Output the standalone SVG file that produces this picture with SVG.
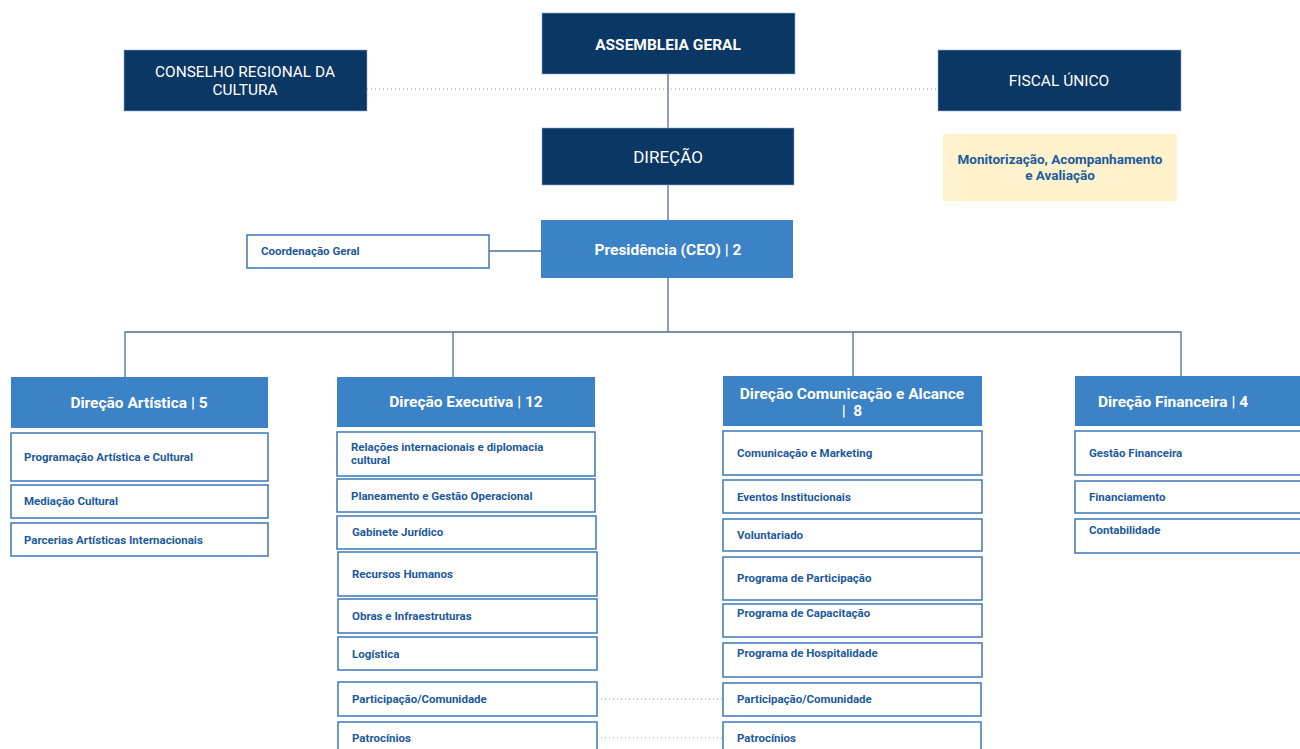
<svg xmlns="http://www.w3.org/2000/svg" width="1300" height="749" viewBox="0 0 1300 749">
<style>
.navy{fill:#0b3764;stroke:#8fb0d0;stroke-width:0.6}
.hdr{fill:#3b82c6}
.sub{fill:#ffffff;stroke:#3d78b6;stroke-width:1.5}
.tw{font-family:Roboto,"Liberation Sans",sans-serif;fill:#ffffff;text-anchor:middle}
.th{font-family:Roboto,"Liberation Sans",sans-serif;fill:#ffffff;text-anchor:middle;font-weight:bold;font-size:15.5px}
.ts{font-family:Roboto,"Liberation Sans",sans-serif;fill:#1e5a9c;font-weight:bold;font-size:11.5px}
.tm{font-family:Roboto,"Liberation Sans",sans-serif;fill:#1e5a9c;font-weight:bold;font-size:13.5px;text-anchor:middle}
.line{stroke:#4f6f90;stroke-width:1.3;fill:none}
.dot{stroke:#9a9a9a;stroke-width:1;stroke-dasharray:1 3;fill:none}
</style>
<rect width="1300" height="749" fill="#ffffff"/>
<g id="connectors">
<line class="dot" x1="367" y1="89" x2="938" y2="89"/>
<line class="line" x1="668" y1="74" x2="668" y2="128"/>
<line class="line" x1="668" y1="185" x2="668" y2="220"/>
<line class="line" x1="489" y1="251" x2="541" y2="251"/>
<line class="line" x1="668" y1="278" x2="668" y2="332"/>
<polyline class="line" points="125,377 125,332 1181,332 1181,376"/>
<line class="line" x1="453" y1="332" x2="453" y2="377"/>
<line class="line" x1="853" y1="332" x2="853" y2="376"/>
<line class="dot" x1="597" y1="699" x2="722" y2="699"/>
<line class="dot" x1="597" y1="738" x2="722" y2="738"/>
</g>
<g id="assembleia">
<rect class="navy" x="542" y="13" width="253" height="61"/>
<text class="tw" x="668" y="50" font-size="15.5" font-weight="bold">ASSEMBLEIA GERAL</text>
</g>
<g id="conselho">
<rect class="navy" x="124" y="50" width="243" height="61"/>
<text class="tw" x="245" y="77" font-size="15.4">CONSELHO REGIONAL DA</text>
<text class="tw" x="245" y="95" font-size="15.4">CULTURA</text>
</g>
<g id="fiscal">
<rect class="navy" x="938" y="50" width="243" height="61"/>
<text class="tw" x="1059" y="86" font-size="15.5">FISCAL ÚNICO</text>
</g>
<g id="monitorizacao">
<rect x="943" y="134" width="234" height="67" fill="#fff2cc"/>
<text class="tm" x="1060" y="164">Monitorização, Acompanhamento</text>
<text class="tm" x="1060" y="180">e Avaliação</text>
</g>
<g id="direcao">
<rect class="navy" x="542" y="128" width="252" height="57"/>
<text class="tw" x="668" y="163" font-size="17">DIREÇÃO</text>
</g>
<g id="presidencia">
<rect class="hdr" x="541" y="220" width="252" height="58"/>
<text class="th" x="668" y="255">Presidência (CEO) | 2</text>
</g>
<g id="coordenacao">
<rect class="sub" x="247" y="235" width="242" height="33"/>
<text class="ts" x="261" y="255">Coordenação Geral</text>
</g>
<g id="dir-artistica">
<rect class="hdr" x="11" y="377" width="257" height="51"/>
<text class="th" x="139" y="408">Direção Artística | 5</text>
</g>
<g id="art-1"><rect class="sub" x="11" y="433" width="257" height="48"/><text class="ts" x="24" y="461">Programação Artística e Cultural</text></g>
<g id="art-2"><rect class="sub" x="11" y="485" width="257" height="33"/><text class="ts" x="24" y="505">Mediação Cultural</text></g>
<g id="art-3"><rect class="sub" x="11" y="523" width="257" height="33"/><text class="ts" x="24" y="544">Parcerias Artísticas Internacionais</text></g>
<g id="dir-executiva">
<rect class="hdr" x="337" y="377" width="258" height="50"/>
<text class="th" x="466" y="407">Direção Executiva | 12</text>
</g>
<g id="exe-1"><rect class="sub" x="337" y="432" width="258" height="44"/><text class="ts" x="351" y="451">Relações internacionais e diplomacia</text><text class="ts" x="351" y="464">cultural</text></g>
<g id="exe-2"><rect class="sub" x="337" y="479" width="258" height="33"/><text class="ts" x="351" y="500">Planeamento e Gestão Operacional</text></g>
<g id="exe-3"><rect class="sub" x="337" y="516" width="259" height="33"/><text class="ts" x="352" y="536">Gabinete Jurídico</text></g>
<g id="exe-4"><rect class="sub" x="338" y="552" width="259" height="44"/><text class="ts" x="352" y="578">Recursos Humanos</text></g>
<g id="exe-5"><rect class="sub" x="338" y="599" width="259" height="34"/><text class="ts" x="352" y="620">Obras e Infraestruturas</text></g>
<g id="exe-6"><rect class="sub" x="338" y="637" width="259" height="33"/><text class="ts" x="352" y="658">Logística</text></g>
<g id="exe-7"><rect class="sub" x="338" y="682" width="259" height="34"/><text class="ts" x="352" y="703">Participação/Comunidade</text></g>
<g id="exe-8"><rect class="sub" x="338" y="722" width="259" height="34"/><text class="ts" x="352" y="742">Patrocínios</text></g>
<g id="dir-comunicacao">
<rect class="hdr" x="723" y="376" width="259" height="50"/>
<text class="th" x="852" y="399">Direção Comunicação e Alcance</text>
<text class="th" x="852" y="416" xml:space="preserve">|  8</text>
</g>
<g id="com-1"><rect class="sub" x="723" y="431" width="259" height="44"/><text class="ts" x="737" y="457">Comunicação e Marketing</text></g>
<g id="com-2"><rect class="sub" x="723" y="480" width="259" height="33"/><text class="ts" x="737" y="501">Eventos Institucionais</text></g>
<g id="com-3"><rect class="sub" x="723" y="519" width="259" height="32"/><text class="ts" x="737" y="539">Voluntariado</text></g>
<g id="com-4"><rect class="sub" x="723" y="557" width="259" height="43"/><text class="ts" x="737" y="582">Programa de Participação</text></g>
<g id="com-5"><rect class="sub" x="723" y="604" width="259" height="33"/><text class="ts" x="737" y="617">Programa de Capacitação</text></g>
<g id="com-6"><rect class="sub" x="723" y="643" width="259" height="34"/><text class="ts" x="737" y="657">Programa de Hospitalidade</text></g>
<g id="com-7"><rect class="sub" x="723" y="683" width="258" height="33"/><text class="ts" x="737" y="703">Participação/Comunidade</text></g>
<g id="com-8"><rect class="sub" x="723" y="722" width="258" height="34"/><text class="ts" x="737" y="742">Patrocínios</text></g>
<g id="dir-financeira">
<rect class="hdr" x="1075" y="376" width="230" height="50"/>
<text class="th" x="1173" y="407">Direção Financeira | 4</text>
</g>
<g id="fin-1"><rect class="sub" x="1075" y="431" width="230" height="44"/><text class="ts" x="1089" y="457">Gestão Financeira</text></g>
<g id="fin-2"><rect class="sub" x="1075" y="481" width="230" height="32"/><text class="ts" x="1089" y="501">Financiamento</text></g>
<g id="fin-3"><rect class="sub" x="1075" y="519" width="230" height="34"/><text class="ts" x="1089" y="534">Contabilidade</text></g>
</svg>
